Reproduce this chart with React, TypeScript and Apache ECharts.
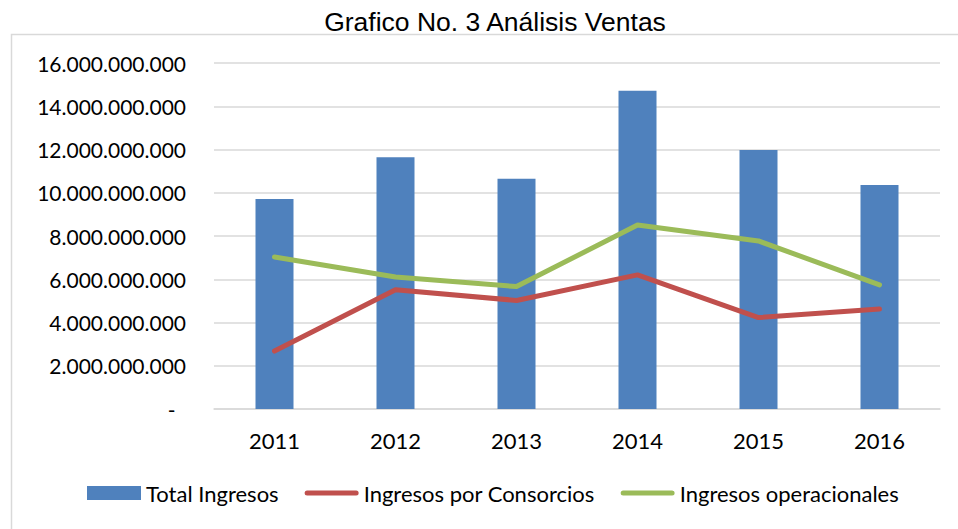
import React, { useEffect, useRef } from "react";
import * as echarts from "echarts";

const categories = ["2011", "2012", "2013", "2014", "2015", "2016"];
const totalIngresos = [9710000000, 11640000000, 10650000000, 14720000000, 11980000000, 10360000000];
const ingresosConsorcios = [2680000000, 5510000000, 5020000000, 6200000000, 4230000000, 4620000000];
const ingresosOperacionales = [7030000000, 6100000000, 5660000000, 8510000000, 7770000000, 5740000000];
const seriesNames = ["Total Ingresos", "Ingresos por Consorcios", "Ingresos operacionales"];
const titleText = "Grafico No. 3 Análisis Ventas";

const fmt = (v: number) =>
  v === 0 ? "-\u2002" : String(Math.round(v)).replace(/\B(?=(\d{3})+(?!\d))/g, ".");

const lineIcon = "path://M2.5,0 H51.5 A2.5,2.5 0 0 1 51.5,5 H2.5 A2.5,2.5 0 0 1 2.5,0 Z";

export default function App() {
  const ref = useRef<HTMLDivElement>(null);
  useEffect(() => {
    if (!ref.current) return;
    const chart = echarts.init(ref.current, undefined, { renderer: "svg" });
    const labelFont = "Lato, 'Open Sans', sans-serif";
    chart.setOption({
      animation: false,
      backgroundColor: "#ffffff",
      title: {
        text: titleText,
        left: 490,
        textAlign: "center",
        top: 3,
        textStyle: {
          fontFamily: "'Liberation Sans', Arial, sans-serif",
          fontWeight: "normal",
          fontSize: 26.5,
          color: "#000000",
        },
      },
      graphic: [
        {
          type: "rect",
          shape: { x: 11.5, y: 34.5, width: 1000, height: 600 },
          style: { fill: "none", stroke: "#d9d9d9", lineWidth: 1.5 },
          silent: true,
          z: -1,
        },
      ],
      grid: { left: 214, right: 18, top: 63, bottom: 120 },
      legend: {
        left: 82,
        top: 477,
        itemWidth: 54,
        itemHeight: 14,
        itemGap: 26,
        symbolKeepAspect: true,
        textStyle: { fontFamily: labelFont, fontSize: 22, color: "#000000" },
        data: [
          { name: seriesNames[0], icon: "rect" },
          { name: seriesNames[1], icon: lineIcon },
          { name: seriesNames[2], icon: lineIcon },
        ],
      },
      xAxis: {
        type: "category",
        data: categories,
        axisTick: { show: false },
        axisLine: { lineStyle: { color: "#d9d9d9", width: 1.5 } },
        axisLabel: { fontFamily: labelFont, fontSize: 22, color: "#000000", margin: 20 },
      },
      yAxis: {
        type: "value",
        min: 0,
        max: 16000000000,
        interval: 2000000000,
        axisLine: { show: false },
        axisTick: { show: false },
        splitLine: { lineStyle: { color: "#d9d9d9", width: 1.5 } },
        axisLabel: {
          fontFamily: labelFont,
          fontSize: 21,
          color: "#000000",
          margin: 28,
          formatter: fmt,
        },
      },
      series: [
        {
          name: seriesNames[0],
          type: "bar",
          data: totalIngresos,
          barWidth: 38,
          itemStyle: { color: "#4f81bd" },
        },
        {
          name: seriesNames[1],
          type: "line",
          data: ingresosConsorcios,
          symbol: "none",
          lineStyle: { color: "#c0504d", width: 5, cap: "round", join: "round" },
          itemStyle: { color: "#c0504d" },
        },
        {
          name: seriesNames[2],
          type: "line",
          data: ingresosOperacionales,
          symbol: "none",
          lineStyle: { color: "#9bbb59", width: 5, cap: "round", join: "round" },
          itemStyle: { color: "#9bbb59" },
        },
      ],
    });
    return () => chart.dispose();
  }, []);
  return (
    <div
      ref={ref}
      style={{ position: "absolute", left: 0, top: 0, width: 958, height: 529 }}
    />
  );
}
